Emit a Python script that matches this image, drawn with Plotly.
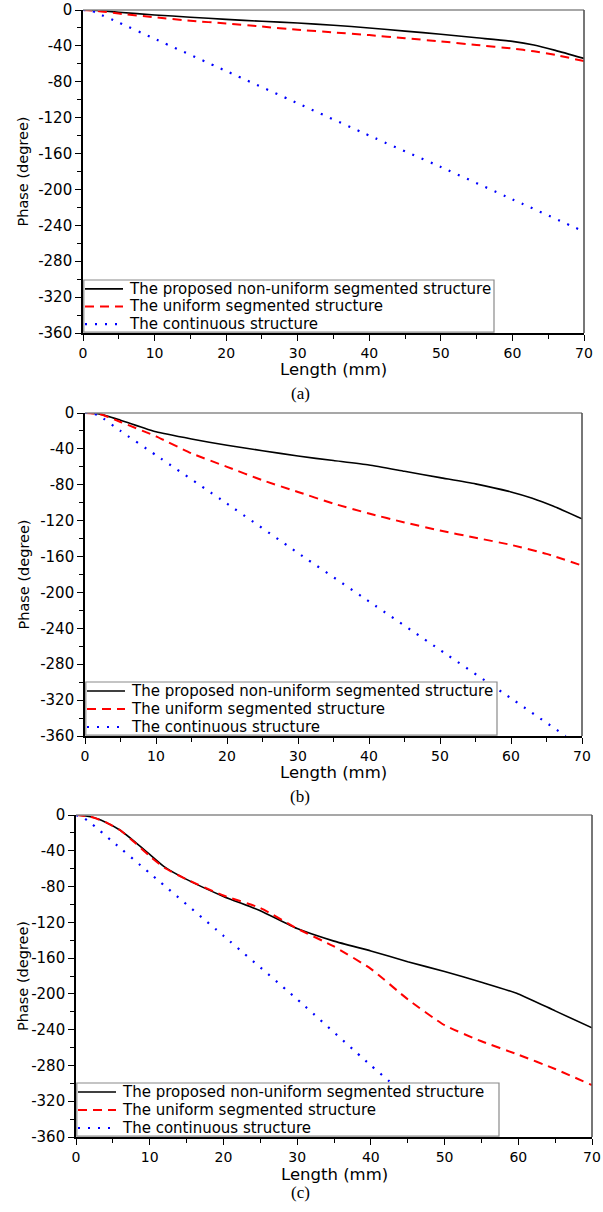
import plotly.graph_objects as go

W, H = 603, 1212

# ---------------- data ----------------
names = ["The proposed non-uniform segmented structure",
         "The uniform segmented structure",
         "The continuous structure"]
panel_labels = ["(a)", "(b)", "(c)"]
x_title = "Length (mm)"
y_title = "Phase (degree)"

# Panel (a)
a_black_x = [0, 2, 5, 10, 15, 20, 25, 30, 35, 40, 45, 50, 55, 60, 63, 66, 70]
a_black_y = [0, -0.5, -2.5, -5.5, -8, -10.5, -12.5, -14.5, -17, -20, -23.5, -27, -31, -35, -39, -45, -54]
a_red_x = [0, 2, 5, 10, 15, 20, 25, 30, 35, 40, 45, 50, 55, 60, 63, 66, 70]
a_red_y = [0, -1, -4, -8, -12, -15, -18.5, -22, -25, -28, -31.5, -35, -39, -43, -46, -50, -57]
a_blue_x = [0, 1, 2, 5, 10, 20, 30, 40, 50, 60, 70]
a_blue_y = [0, -0.5, -3.5, -14, -32, -68, -104, -140, -175, -211, -247]

# Panel (b)
b_black_x = [0, 2, 5, 10, 15, 20, 25, 30, 35, 40, 45, 50, 55, 60, 63, 66, 70]
b_black_y = [0, -1, -8, -21, -29, -36, -42, -48, -53, -58, -65, -72, -79, -88, -95, -104, -118]
b_red_x = [0, 2, 5, 10, 15, 20, 25, 30, 35, 40, 45, 50, 55, 60, 65, 70]
b_red_y = [0, -1, -10, -26, -45, -60, -75, -88, -101, -112, -122, -131, -139, -147, -157, -170]
b_blue_x = [0, 1, 2, 5, 10, 20, 30, 40, 50, 60, 67.7]
b_blue_y = [0, 0, -3, -20, -47, -101, -156, -210, -264, -318, -360]

# Panel (c)
c_black_x = [0, 2, 4, 6, 8, 10, 12, 15, 20, 25, 30, 35, 40, 45, 50, 55, 60, 65, 70]
c_black_y = [0, -2, -8, -17, -30, -44, -58, -72, -91, -107, -127, -141, -152, -164, -175, -187, -200, -219, -238]
c_red_x = [0, 2, 4, 6, 8, 10, 12, 15, 20, 25, 30, 35, 40, 45, 50, 55, 60, 65, 70]
c_red_y = [0, -2, -8, -17, -31, -46, -59, -72, -90, -104, -127, -147, -172, -206, -235, -253, -268, -284, -302]
c_blue_x = [0, 1, 2, 5, 10, 20, 30, 40, 42.4, 50, 51.3]
c_blue_y = [0, -3, -9, -30, -65, -135, -206, -280, -297, -351, -360]

x_tick_vals = [0, 10, 20, 30, 40, 50, 60, 70]
x_tick_text = [str(v) for v in x_tick_vals]
y_tick_vals = [0, -40, -80, -120, -160, -200, -240, -280, -320, -360]
y_tick_text = [str(v) for v in y_tick_vals]

panels = [
    (a_black_x, a_black_y, a_red_x, a_red_y, a_blue_x, a_blue_y),
    (b_black_x, b_black_y, b_red_x, b_red_y, b_blue_x, b_blue_y),
    (c_black_x, c_black_y, c_red_x, c_red_y, c_blue_x, c_blue_y),
]

# ---------------- layout geometry (pixels) ----------------
# left, right, top, bottom of each plot area
boxes = [(83, 584, 10, 333), (85, 582, 413, 736), (76, 592, 815, 1137)]
legend_right = [494, 497, 499]
legend_top = [280, 682, 1083]
xtitle_y = [369, 772, 1174]
label_y = [393, 796, 1192]


def px(x):
    return x / W


def py(y):
    return 1 - y / H


fig = go.Figure()
styles = [dict(color="black", width=1.6),
          dict(color="#FF0000", width=2, dash="9px,6px"),
          dict(color="#0000FF", width=2.2, dash="2px,8px")]

layout = dict(width=W, height=H, margin=dict(l=0, r=0, t=0, b=0, autoexpand=False),
              template="none",
              paper_bgcolor="white", plot_bgcolor="white", showlegend=False)
annotations = []
shapes = []
font_ytick = dict(family="DejaVu Sans", size=15, color="black")
font_xtick = dict(family="DejaVu Sans", size=14, color="black")
font_leg = dict(family="DejaVu Sans", size=15, color="black")

for i, (data, box) in enumerate(zip(panels, boxes)):
    sfx = "" if i == 0 else str(i + 1)
    xa, ya = "x" + sfx, "y" + sfx
    series = [(data[0], data[1]), (data[2], data[3]), (data[4], data[5])]
    for (xs, ys), nm, st in zip(series, names, styles):
        fig.add_trace(go.Scatter(x=xs, y=ys, mode="lines", name=nm,
                                 line=dict(shape="spline", smoothing=0.5, **st),
                                 xaxis=xa, yaxis=ya, hoverinfo="skip"))
    l, r, t, b = box
    layout["xaxis" + sfx] = dict(domain=[px(l), px(r)], range=[0, 70], anchor=ya, automargin=False,
                                 showgrid=False, zeroline=False, showline=True, linecolor="black", linewidth=1.6,
                                 ticks="outside", ticklen=6, tickwidth=1.3, tickcolor="black",
                                 tickvals=x_tick_vals, ticktext=x_tick_text, tickfont=font_xtick,
                                 minor=dict(ticks="outside", ticklen=4, tickwidth=1.3, tickcolor="black",
                                            dtick=5, tick0=0, showgrid=False))
    layout["yaxis" + sfx] = dict(domain=[py(b), py(t)], range=[-360, 0], anchor=xa, automargin=False,
                                 showgrid=False, zeroline=False, showline=True, linecolor="black", linewidth=1.6,
                                 ticks="outside", ticklen=6, tickwidth=1.3, tickcolor="black",
                                 tickvals=y_tick_vals, ticktext=y_tick_text, tickfont=font_ytick,
                                 minor=dict(ticks="outside", ticklen=4, tickwidth=1.3, tickcolor="black",
                                            dtick=20, tick0=0, showgrid=False))
    # top and right frame lines
    shapes.append(dict(type="line", xref="paper", yref="paper", x0=px(l), x1=px(r), y0=py(t), y1=py(t),
                       line=dict(color="#8a8a8a", width=1.6), layer="above"))
    shapes.append(dict(type="line", xref="paper", yref="paper", x0=px(r), x1=px(r), y0=py(t), y1=py(b),
                       line=dict(color="#555555", width=1.6), layer="above"))
    # legend box (white, covers lines beneath)
    lt, lr = legend_top[i], legend_right[i]
    shapes.append(dict(type="rect", xref="paper", yref="paper", x0=px(l + 0.8), x1=px(lr), y0=py(b - 0.8), y1=py(lt),
                       fillcolor="white", line=dict(color="#8a8a8a", width=1.2), layer="above"))
    row_h = (b - lt) / 3.0
    for k, (nm, st) in enumerate(zip(names, styles)):
        yc = lt + row_h * (k + 0.5)
        shapes.append(dict(type="line", xref="paper", yref="paper", x0=px(l + 2), x1=px(l + 40),
                           y0=py(yc), y1=py(yc), layer="above",
                           line=dict(color=st["color"], width=st["width"], dash=st.get("dash", "solid"))))
        annotations.append(dict(text=nm, x=px(l + 44), y=py(yc), xref="paper", yref="paper",
                                showarrow=False, xanchor="left", yanchor="middle", font=font_leg))
    annotations.append(dict(text=x_title, x=px((l + r) / 2), y=py(xtitle_y[i]), xref="paper", yref="paper",
                            showarrow=False, xanchor="center", yanchor="middle",
                            font=dict(family="DejaVu Sans", size=16.5, color="black")))
    annotations.append(dict(text=y_title, x=px(23), y=py((t + b) / 2), xref="paper", yref="paper",
                            showarrow=False, xanchor="center", yanchor="middle", textangle=-90,
                            font=dict(family="DejaVu Sans", size=14.5, color="black")))
    annotations.append(dict(text=panel_labels[i], x=px(300), y=py(label_y[i]), xref="paper", yref="paper",
                            showarrow=False, xanchor="center", yanchor="middle",
                            font=dict(family="Liberation Serif", size=17, color="black")))

layout["annotations"] = annotations
layout["shapes"] = shapes
fig.update_layout(**layout)
fig.write_html("out.html", config={"displayModeBar": False},
               post_script="document.body.style.margin='0';document.body.style.overflow='hidden';")
